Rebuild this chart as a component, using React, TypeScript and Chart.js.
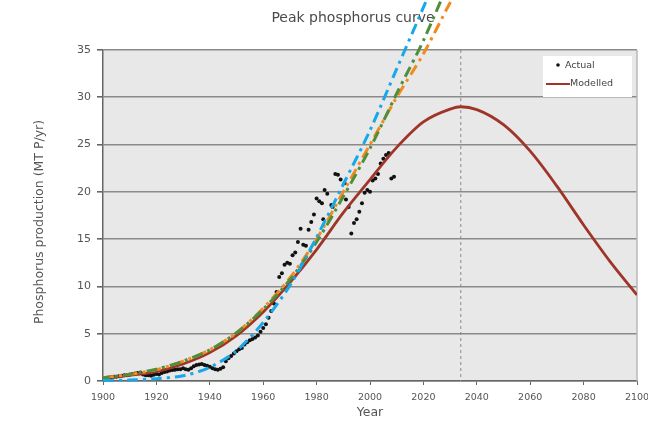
import React, { useEffect, useRef } from "react";
import { Chart, registerables } from "chart.js";

Chart.register(...registerables);

// ---------- data ----------
const titleText = "Peak phosphorus curve";
const xTitle = "Year";
const yTitle = "Phosphorus production (MT P/yr)";
const legendLabels = ["Actual", "Modelled"];

const xMin = 1900;
const xMax = 2100;
const xStep = 20;
const yMin = 0;
const yMax = 35;
const yStep = 5;
const peakYear = 2034;

const modelYears = [1900, 1910, 1920, 1930, 1940, 1950, 1960, 1970, 1980, 1990, 2000, 2010, 2020, 2030, 2034, 2040, 2050, 2060, 2070, 2080, 2090, 2100];
const modelValues = [0.35, 0.6, 1.0, 1.8, 3.0, 4.8, 7.3, 10.4, 13.9, 17.8, 21.3, 24.7, 27.4, 28.75, 29.0, 28.7, 27.1, 24.3, 20.6, 16.5, 12.6, 9.1];

const actualYears = [
  1900, 1901, 1902, 1903, 1904, 1905, 1906, 1907, 1908, 1909,
  1910, 1911, 1912, 1913, 1914, 1915, 1916, 1917, 1918, 1919,
  1920, 1921, 1922, 1923, 1924, 1925, 1926, 1927, 1928, 1929,
  1930, 1931, 1932, 1933, 1934, 1935, 1936, 1937, 1938, 1939,
  1940, 1941, 1942, 1943, 1944, 1945, 1946, 1947, 1948, 1949,
  1950, 1951, 1952, 1953, 1954, 1955, 1956, 1957, 1958, 1959,
  1960, 1961, 1962, 1963, 1964, 1965, 1966, 1967, 1968, 1969,
  1970, 1971, 1972, 1973, 1974, 1975, 1976, 1977, 1978, 1979,
  1980, 1981, 1982, 1982.5, 1983, 1984, 1985.5, 1986, 1987, 1988, 1989,
  1990.5, 1991, 1992, 1993, 1994, 1995, 1996, 1997, 1998, 1999,
  2000, 2001, 2002, 2003, 2004, 2005, 2006, 2007, 2008, 2009
];
const actualValues = [
  0.3, 0.3, 0.35, 0.4, 0.45, 0.45, 0.5, 0.55, 0.6, 0.6,
  0.7, 0.75, 0.8, 0.85, 0.9, 0.7, 0.6, 0.6, 0.55, 0.65,
  0.75, 0.7, 0.85, 0.95, 1.0, 1.1, 1.15, 1.2, 1.25, 1.25,
  1.35, 1.25, 1.2, 1.35, 1.55, 1.7, 1.75, 1.8, 1.7, 1.6,
  1.5, 1.35, 1.25, 1.2, 1.3, 1.45, 2.1, 2.4, 2.65, 2.9,
  3.15, 3.35, 3.5, 3.85, 4.1, 4.3, 4.45, 4.6, 4.8, 5.2,
  5.6, 6.0, 6.7, 7.4, 8.2, 9.4, 11.0, 11.4, 12.3, 12.5,
  12.4, 13.3, 13.6, 14.7, 16.1, 14.4, 14.3, 16.0, 16.8, 17.6,
  19.3, 19.0, 18.8, 17.1, 20.2, 19.8, 18.6, 18.4, 21.9, 21.8, 21.3,
  20.9, 19.2, 18.4, 15.6, 16.7, 17.1, 17.9, 18.8, 19.9, 20.2,
  20.0, 21.2, 21.4, 21.9, 23.0, 23.5, 23.9, 24.1, 21.4, 21.6
];

const blueYears = [1900, 1910, 1920, 1930, 1940, 1950, 1960, 1970, 1980, 1990, 2000, 2010, 2020, 2030];
const blueValues = [0.05, 0.1, 0.25, 0.55, 1.45, 3.2, 6.2, 10.1, 15.2, 20.8, 26.5, 33.0, 39.5, 46.0];

const orangeYears = [1900, 1910, 1920, 1930, 1940, 1950, 1960, 1970, 1980, 1990, 2000, 2010, 2020, 2030, 2040];
const orangeValues = [0.35, 0.7, 1.2, 2.1, 3.3, 5.1, 7.7, 10.9, 15.0, 20.0, 25.0, 30.0, 34.6, 40.0, 45.0];

const greenYears = [1900, 1910, 1920, 1930, 1940, 1950, 1960, 1970, 1980, 1990, 2000, 2010, 2020, 2030];
const greenValues = [0.35, 0.7, 1.25, 2.1, 3.3, 5.1, 7.6, 10.7, 14.7, 19.5, 24.6, 30.4, 36.0, 42.5];

const zip = (xs: number[], ys: number[]) => xs.map((x, i) => ({ x, y: ys[i] }));

const FONT = "'DejaVu Sans', sans-serif";

const decorPlugin = {
  id: "decor",
  beforeDraw(chart: any) {
    const { ctx, chartArea: a } = chart;
    ctx.save();
    ctx.fillStyle = "#ffffff";
    ctx.fillRect(0, 0, chart.width, chart.height);
    ctx.fillStyle = "#e8e8e8";
    ctx.fillRect(a.left, a.top, a.right - a.left, a.bottom - a.top);
    ctx.fillStyle = "#4a4a4a";
    ctx.textAlign = "center";
    ctx.textBaseline = "middle";
    ctx.font = `14px ${FONT}`;
    ctx.fillText(titleText, 353, 18);
    ctx.fillStyle = "#555555";
    ctx.font = `12.5px ${FONT}`;
    ctx.fillText(xTitle, (a.left + a.right) / 2, 413);
    ctx.translate(40, 222);
    ctx.rotate(-Math.PI / 2);
    ctx.fillText(yTitle, 0, 0);
    ctx.restore();
  },
  beforeDatasetsDraw(chart: any) {
    const { ctx, chartArea: a, scales } = chart;
    ctx.save();
    ctx.strokeStyle = "#b8b8b8";
    ctx.lineWidth = 1.5;
    ctx.beginPath();
    ctx.moveTo(a.right, a.top);
    ctx.lineTo(a.right, a.bottom);
    ctx.stroke();
    const px = scales.x.getPixelForValue(peakYear);
    ctx.strokeStyle = "#8a8a8a";
    ctx.lineWidth = 1;
    ctx.setLineDash([3, 3]);
    ctx.beginPath();
    ctx.moveTo(px, a.top);
    ctx.lineTo(px, a.bottom);
    ctx.stroke();
    ctx.restore();
  },
  afterDraw(chart: any) {
    const { ctx, chartArea: a } = chart;
    ctx.save();
    const bx = a.right - 94;
    const by = a.top + 6;
    ctx.fillStyle = "#ffffff";
    ctx.fillRect(bx, by, 89, 41);
    ctx.fillStyle = "#111111";
    ctx.beginPath();
    ctx.arc(bx + 15, by + 9, 1.8, 0, Math.PI * 2);
    ctx.fill();
    ctx.strokeStyle = "#9e3528";
    ctx.lineWidth = 2;
    ctx.beginPath();
    ctx.moveTo(bx + 3, by + 28);
    ctx.lineTo(bx + 27, by + 28);
    ctx.stroke();
    ctx.fillStyle = "#444444";
    ctx.font = `9.5px ${FONT}`;
    ctx.textAlign = "left";
    ctx.textBaseline = "middle";
    ctx.fillText(legendLabels[0], bx + 22, by + 10);
    ctx.fillText(legendLabels[1], bx + 27, by + 28);
    ctx.restore();
  },
};

export default function App() {
  const ref = useRef<HTMLCanvasElement | null>(null);

  useEffect(() => {
    if (!ref.current) return;
    const dash = [11, 5, 3, 5];
    const chart = new Chart(ref.current, {
      type: "scatter",
      data: {
        datasets: [
          {
            label: "blue",
            data: zip(blueYears, blueValues),
            showLine: true,
            borderColor: "#17a8ea",
            borderWidth: 3,
            borderDash: dash,
            pointRadius: 0,
            tension: 0.3,
            clip: false as any,
            order: 0,
          },
          {
            label: "green",
            data: zip(greenYears, greenValues),
            showLine: true,
            borderColor: "#4d8f3b",
            borderWidth: 3,
            borderDash: dash,
            borderDashOffset: 4,
            pointRadius: 0,
            tension: 0.3,
            clip: false as any,
            order: 1,
          },
          {
            label: "orange",
            data: zip(orangeYears, orangeValues),
            showLine: true,
            borderColor: "#f38a1d",
            borderWidth: 3,
            borderDash: dash,
            pointRadius: 0,
            tension: 0.3,
            clip: false as any,
            order: 2,
          },
          {
            label: legendLabels[0],
            data: zip(actualYears, actualValues),
            pointRadius: 2,
            pointBackgroundColor: "#111111",
            pointBorderWidth: 0,
            order: 4,
          },
          {
            label: legendLabels[1],
            data: zip(modelYears, modelValues),
            showLine: true,
            borderColor: "#9e3528",
            borderWidth: 2.8,
            pointRadius: 0,
            cubicInterpolationMode: "monotone",
            order: 3,
          },
        ],
      },
      options: {
        animation: false,
        responsive: false,
        layout: { padding: { top: 50, right: 11, bottom: 0, left: 0 } },
        plugins: {
          legend: { display: false },
          title: { display: false },
          tooltip: { enabled: false },
        },
        scales: {
          x: {
            type: "linear",
            min: xMin,
            max: xMax,
            ticks: {
              stepSize: xStep,
              autoSkip: false,
              maxRotation: 0,
              color: "#555555",
              padding: 7,
              font: { family: FONT, size: 9.5 },
              callback: (v: any) => String(v),
            },
            grid: { drawOnChartArea: false, drawTicks: true, tickLength: 4, color: "#666666" },
            border: { color: "#666666", width: 1.5 },
            afterFit(s: any) {
              s.height = 43;
              s.paddingLeft = 0;
              s.paddingRight = 0;
            },
          },
          y: {
            min: yMin,
            max: yMax,
            ticks: {
              stepSize: yStep,
              color: "#555555",
              padding: 6,
              font: { family: FONT, size: 11 },
            },
            grid: { color: "#8a8a8a", lineWidth: 1.6, tickLength: 6, tickColor: "#666666" },
            border: { color: "#666666", width: 1.5 },
            afterFit(s: any) {
              s.width = 103;
              s.paddingTop = 0;
              s.paddingBottom = 0;
            },
          },
        },
      } as any,
      plugins: [decorPlugin],
    });
    return () => chart.destroy();
  }, []);

  return (
    <div style={{ position: "absolute", left: 0, top: 0, width: 648, height: 424 }}>
      <canvas ref={ref} width={648} height={424} style={{ display: "block" }} />
    </div>
  );
}
